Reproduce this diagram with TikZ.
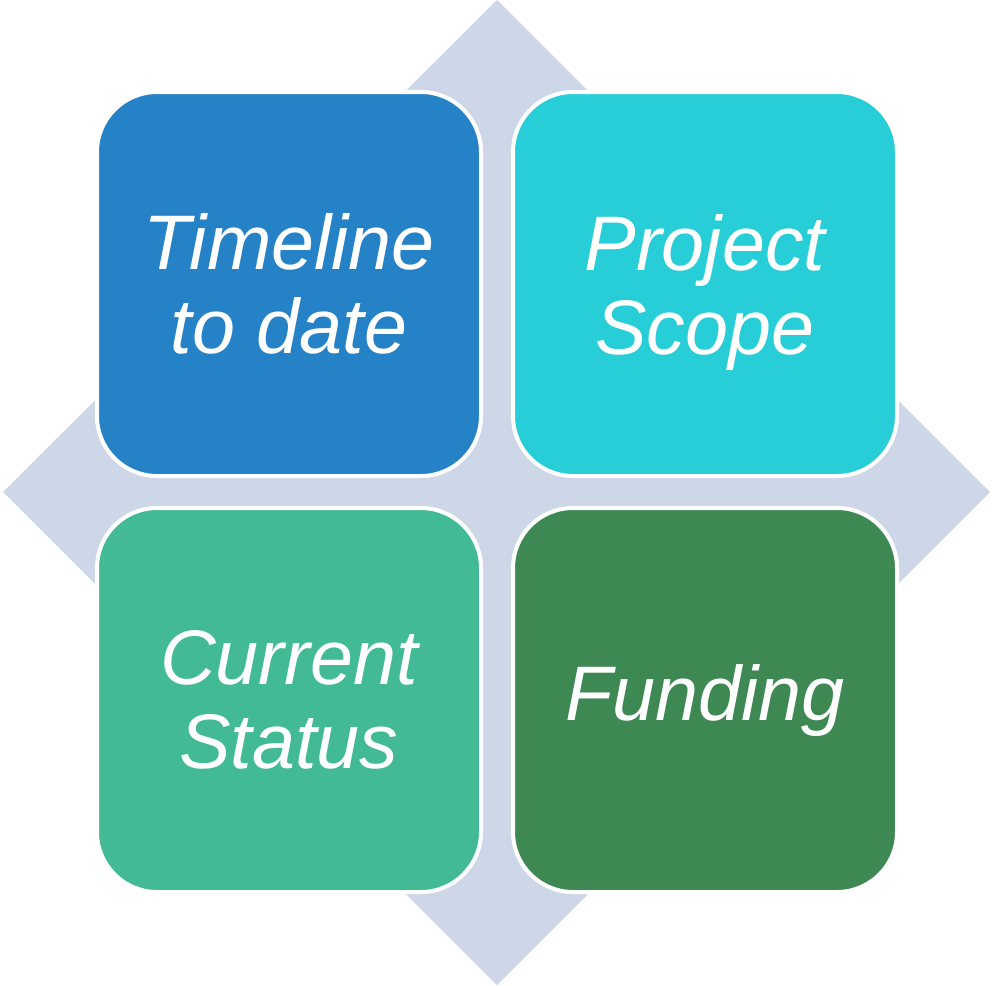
\documentclass[tikz,border=0pt]{standalone}
\usepackage{fontspec}
\setmainfont{Liberation Sans}
\usetikzlibrary{positioning}
\definecolor{tileblue}{HTML}{2682C6}
\definecolor{tilecyan}{HTML}{27CED7}
\definecolor{tilegreen}{HTML}{43BA96}
\definecolor{tiledark}{HTML}{3E8853}
\definecolor{diamondbg}{HTML}{CDD7E8}
\newcommand{\nodepth}[1]{\raisebox{0pt}[\height][0pt]{#1}}
\tikzset{tile/.style={draw=white, line width=3pt, rounded corners=45pt, minimum size=288pt,
  inner sep=0pt, outer sep=0pt, text=white, align=center, font=\itshape\fontsize{58}{63}\selectfont}}
\begin{document}
\begin{tikzpicture}[x=0.75pt, y=-0.75pt, node distance=24pt]
\useasboundingbox (0,0) rectangle (992,985);
\fill[diamondbg] (497,0) -- (990,492) -- (497,985) -- (3,492) -- cycle;
\node[tile, fill=tileblue] (timeline) at (289,284) {Timeline\\to date};
\node[tile, fill=tilecyan, right=of timeline] (scope) {Project\\\nodepth{Scope}};
\node[tile, fill=tilegreen, below=of timeline] (status) {Current\\Status};
\node[tile, fill=tiledark, right=of status] (funding) {Funding};
\end{tikzpicture}
\end{document}
